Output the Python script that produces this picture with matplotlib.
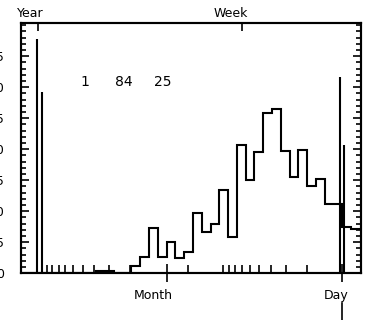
import numpy as np
import matplotlib
matplotlib.use('Agg')
import matplotlib.pyplot as plt
import matplotlib.transforms as mtransforms
from matplotlib.ticker import NullFormatter, NullLocator

plt.rcParams['font.family'] = ['DejaVu Sans']

# log-spaced period bins (days), shortest period first
bin_step = 0.0739
bin_edges = 10 ** (np.arange(-3, 38) * bin_step)
counts = [7.1, 7.1, 7.4, 11.1, 11.1, 15.2, 14.0, 19.8, 15.6, 19.7,
          26.5, 25.8, 19.5, 15.0, 20.7, 5.9, 13.5, 7.9, 6.6, 9.8,
          3.5, 2.5, 5.0, 2.6, 7.3, 2.7, 1.2, 0.1, 0.1, 0.4,
          0.4, 0.1, 0.1, 0.1, 0, 0, 0, 0, 0, 0]

# isolated peaks (days, height)
peak_days = [371.6, 337.5, 1.045, 0.977]
peak_heights = [37.8, 29.2, 31.6, 20.7]

# axis ticks in days
bottom_major = [1, 30]
bottom_major_labels = ['Day', 'Month']
day_ticks = [2, 3, 4, 5, 6, 7, 8, 9, 10, 20]
month_ticks = [61, 91, 122, 152, 183, 213, 243, 274, 304, 335]
top_major = [365.25, 7]
top_major_labels = ['Year', 'Week']

stats = ['1', '84', '25']
stats_x = [0.188, 0.301, 0.418]

fig = plt.figure(figsize=(3.67, 3.2), dpi=100)
ax = fig.add_axes([0.0567, 0.1459, 0.9283, 0.7832])

ax.stairs(counts, bin_edges, color='black', linewidth=1.5)
ax.vlines(peak_days, 0, peak_heights, color='black', linewidth=1.5)

ax.set_xscale('log')
ax.set_xlim(505.8, 0.69)
ax.set_ylim(0, 40.4)

for s in ax.spines.values():
    s.set_linewidth(1.5)

# y axis
ax.set_yticks(np.arange(0, 40, 5))
ax.set_yticks(np.arange(0, 41, 1), minor=True)
ax.tick_params(axis='y', which='both', direction='in', left=True, right=True,
               width=1.2, labelsize=9, pad=12)
ax.tick_params(axis='y', which='major', length=5.5)
ax.tick_params(axis='y', which='minor', length=3.5)

# bottom x axis
ax.set_xticks(bottom_major)
ax.set_xticklabels(['', ''])
ax.set_xticks(day_ticks + month_ticks, minor=True)
ax.xaxis.set_minor_formatter(NullFormatter())
ax.tick_params(axis='x', which='major', direction='inout', length=12.5,
               width=1.2, top=False)
ax.tick_params(axis='x', which='minor', direction='in', length=5.8,
               width=1.2, top=False)

# top x axis
ax2 = ax.twiny()
ax2.set_xscale('log')
ax2.set_xlim(ax.get_xlim())
ax2.set_xticks(top_major)
ax2.set_xticklabels(['', ''])
ax2.xaxis.set_minor_locator(NullLocator())
ax2.tick_params(axis='x', which='major', direction='in', length=5.8,
                width=1.2)
for s in ax2.spines.values():
    s.set_linewidth(1.5)

for val, lab in zip(bottom_major, bottom_major_labels):
    ax.annotate(lab, xy=(val, 0), xycoords=('data', 'axes fraction'),
                xytext=(4.3, -16.3), textcoords='offset points',
                ha='right', va='center', fontsize=9)
for val, lab in zip(top_major, top_major_labels):
    ax.annotate(lab, xy=(val, 1), xycoords=('data', 'axes fraction'),
                xytext=(4.3, 6.8), textcoords='offset points',
                ha='right', va='center', fontsize=9)

# extra marker below the Day label
trans = mtransforms.blended_transform_factory(ax.transData, ax.transAxes)
ax.plot([1, 1], [-0.1185, -0.2], transform=trans, color='black',
        linewidth=1.2, clip_on=False)

for sx, st in zip(stats_x, stats):
    ax.text(sx, 0.765, st, transform=ax.transAxes, ha='center', va='center',
            fontsize=10)

fig.savefig('out.png', dpi=100)
